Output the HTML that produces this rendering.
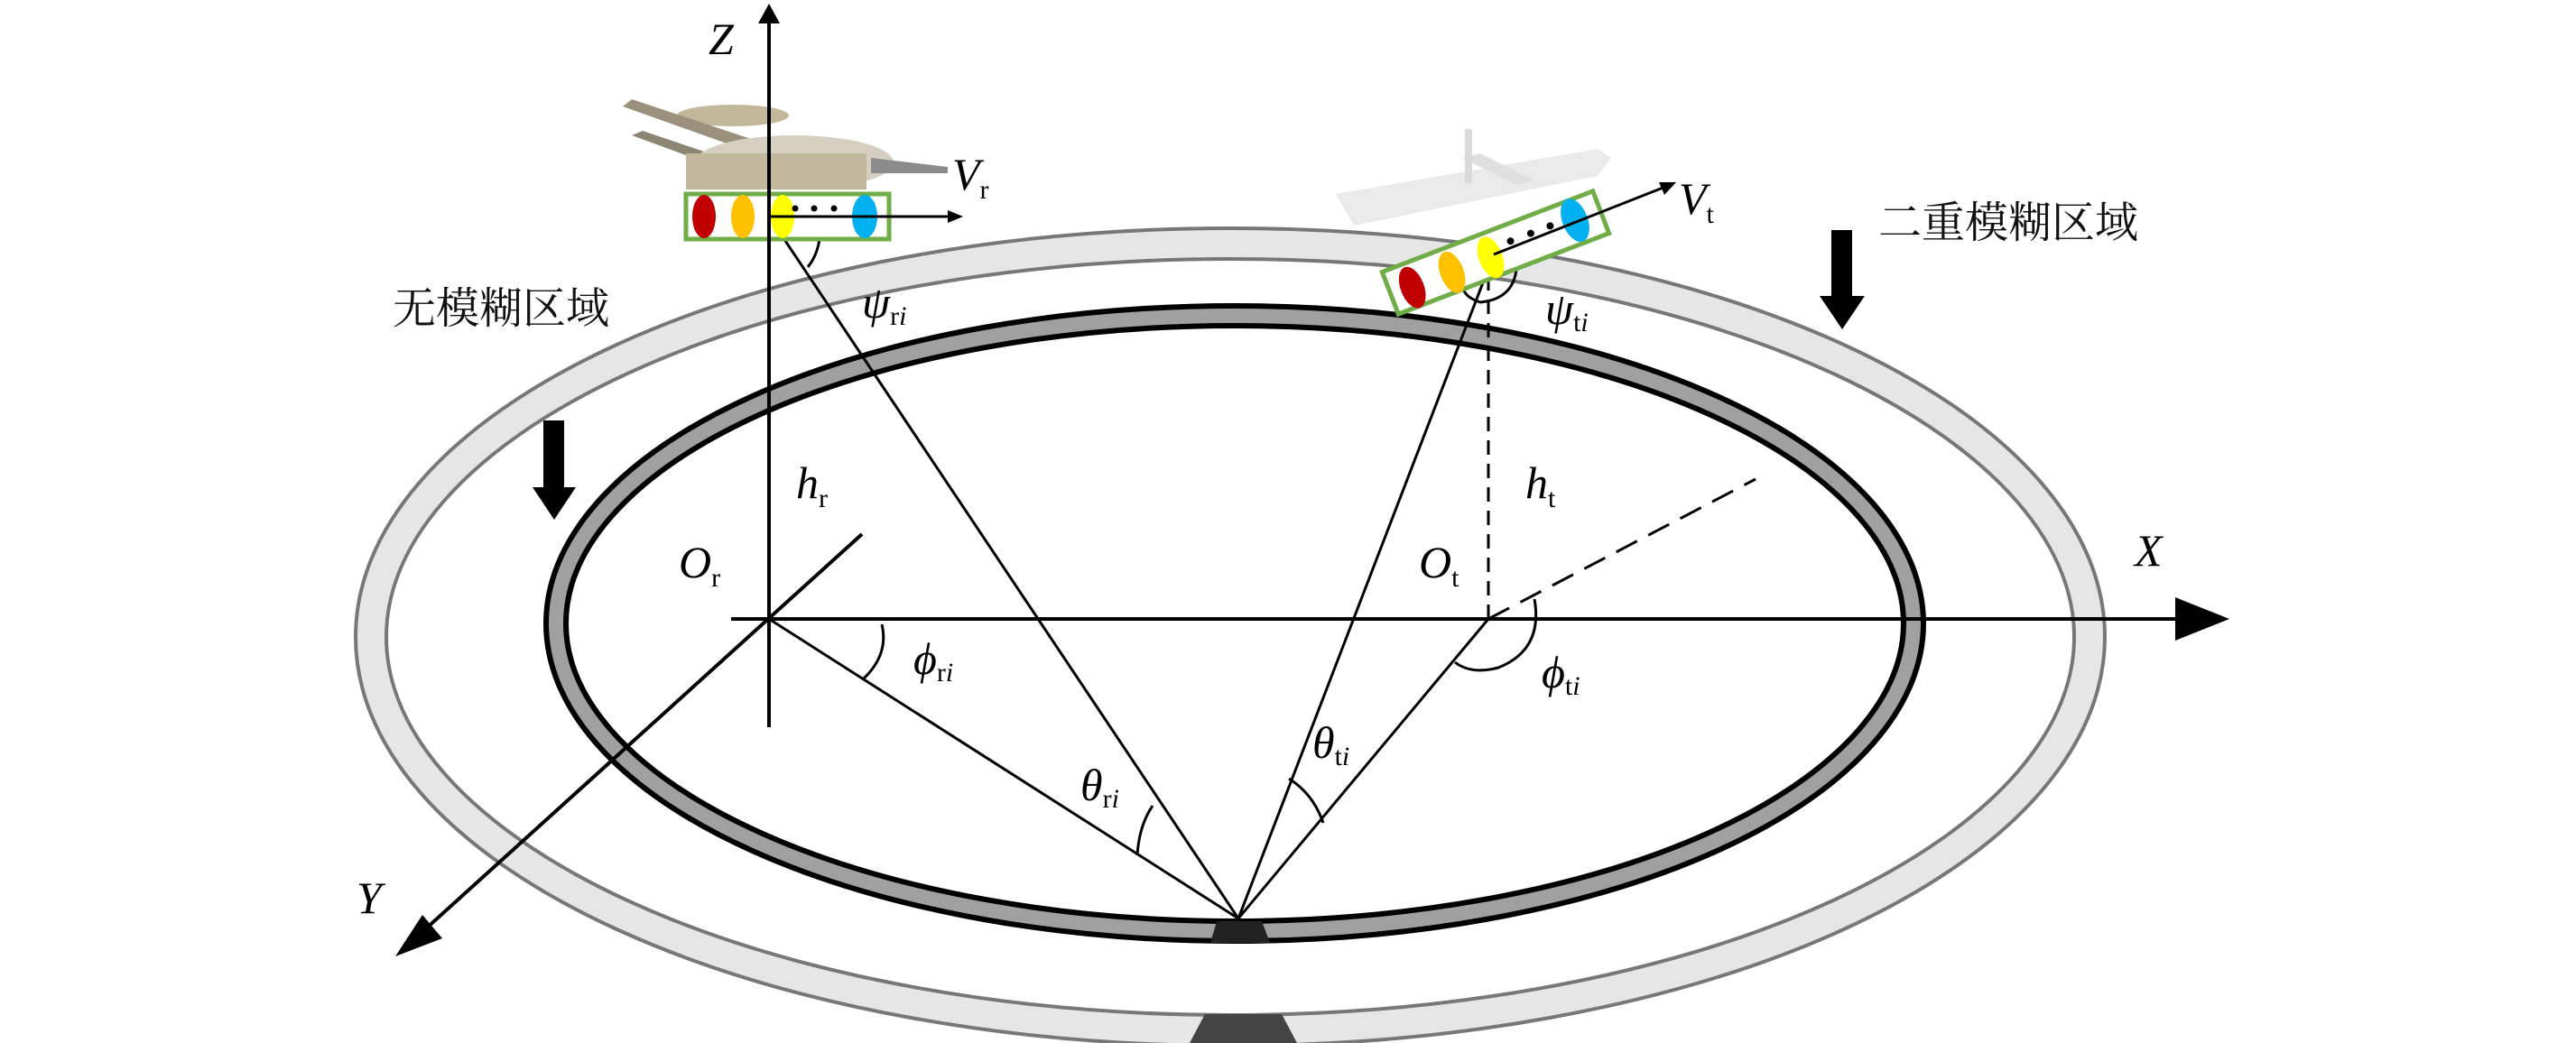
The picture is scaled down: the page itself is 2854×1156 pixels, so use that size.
<!DOCTYPE html>
<html><head><meta charset="utf-8"><style>
html,body{margin:0;padding:0;background:#fff;}
svg{display:block;}
.it{font-family:"Liberation Serif",serif;font-style:italic;font-size:50px;}
.sb{font-family:"Liberation Serif",serif;font-style:normal;font-size:30px;}
.sbi{font-family:"Liberation Serif",serif;font-style:italic;font-size:30px;}
.cn{font-family:"Liberation Serif","Noto Serif CJK SC",serif;font-size:48px;fill:#111;}
</style></head><body>
<svg width="2854" height="1156" viewBox="0 0 2854 1156" xmlns="http://www.w3.org/2000/svg">
<!-- outer light ring -->
<ellipse cx="1363" cy="706" rx="952" ry="436" fill="none" stroke="#777" stroke-width="38"/>
<ellipse cx="1363" cy="706" rx="952" ry="436" fill="none" stroke="#e6e6e6" stroke-width="30"/>
<polygon points="1335,1124 1420,1124 1437,1156 1318,1156" fill="#444"/>
<!-- inner dark ring -->
<ellipse cx="1368" cy="691" rx="752" ry="341" fill="none" stroke="#000" stroke-width="28"/>
<ellipse cx="1368" cy="691" rx="752" ry="341" fill="none" stroke="#a0a0a0" stroke-width="16"/>
<polygon points="1348,1021 1398,1021 1407,1045 1341,1045" fill="#222"/>

<!-- planes (rough) -->
<g opacity="0.85">
<ellipse cx="812" cy="128" rx="62" ry="12" fill="#b8ab8a"/>
<polygon points="690,118 700,110 880,170 870,182" fill="#8a7d66"/>
<polygon points="700,150 712,145 860,195 850,205" fill="#7a705c"/>
<ellipse cx="880" cy="180" rx="110" ry="30" fill="#cfc6b4"/>
<polygon points="965,175 1050,185 1050,192 965,192" fill="#777"/>
<rect x="760" y="170" width="200" height="40" fill="#b9ab8e"/>
</g>
<g opacity="0.3">
<polygon points="1480,215 1770,165 1785,175 1770,195 1500,250" fill="#bbb"/>
<polygon points="1620,175 1640,170 1700,200 1680,205" fill="#999"/>
<rect x="1623" y="143" width="8" height="60" fill="#888"/>
</g>

<!-- axes -->
<line x1="852" y1="20" x2="852" y2="806" stroke="#000" stroke-width="4"/>
<polygon points="852,4 840,26 864,26" fill="#000"/>
<line x1="810" y1="686" x2="2430" y2="686" stroke="#000" stroke-width="4"/>
<polygon points="2470,686 2410,662 2410,710" fill="#000"/>
<line x1="955" y1="592" x2="460" y2="1040" stroke="#000" stroke-width="4"/>
<polygon points="438,1060 490,1040 468,1014" fill="#000"/>

<!-- lines from ground point -->
<g stroke="#000" stroke-width="3" fill="none">
<line x1="1372" y1="1018" x2="852" y2="240"/>
<line x1="1372" y1="1018" x2="852" y2="686"/>
<line x1="1372" y1="1018" x2="1655" y2="282"/>
<line x1="1372" y1="1018" x2="1649" y2="686"/>
<line x1="1649" y1="686" x2="1649" y2="290" stroke-dasharray="16,10"/>
<line x1="1649" y1="686" x2="1945" y2="531" stroke-dasharray="26,14"/>
<path d="M 977,692 Q 985,725 957,752"/>
<path d="M 1260,948 Q 1262,915 1277,893"/>
<path d="M 1428,863 Q 1455,880 1466,912"/>
<path d="M 1700,664 Q 1710,720 1660,740 Q 1630,748 1612,734"/>
<path d="M 908,240 Q 912,275 895,296"/>
<path d="M 1678,270 Q 1690,330 1640,335 Q 1625,330 1622,322"/>
</g>

<!-- receiver antenna -->
<rect x="760" y="215" width="225" height="50" fill="#fff" stroke="#70ad47" stroke-width="5"/>
<ellipse cx="780" cy="240" rx="13" ry="24" fill="#c00000"/>
<ellipse cx="823" cy="240" rx="13" ry="24" fill="#ffc000"/>
<ellipse cx="867" cy="240" rx="13" ry="24" fill="#ffff00"/>
<ellipse cx="958" cy="240" rx="14" ry="24" fill="#00b0f0"/>
<circle cx="881" cy="231" r="3.5"/><circle cx="902" cy="231" r="3.5"/><circle cx="924" cy="231" r="3.5"/>
<line x1="852" y1="20" x2="852" y2="270" stroke="#000" stroke-width="4"/>
<line x1="852" y1="240" x2="1055" y2="240" stroke="#000" stroke-width="3"/>
<polygon points="1067,240 1050,233 1050,247" fill="#000"/>

<!-- transmitter antenna -->
<g transform="translate(1657,280) rotate(-21)">
<rect x="-125" y="-25" width="250" height="50" fill="#fff" stroke="#70ad47" stroke-width="5"/>
<ellipse cx="-100" cy="3" rx="13" ry="24" fill="#c00000"/>
<ellipse cx="-53" cy="3" rx="13" ry="24" fill="#ffc000"/>
<ellipse cx="-7" cy="3" rx="13" ry="24" fill="#ffff00"/>
<ellipse cx="95" cy="-2" rx="14" ry="25" fill="#00b0f0"/>
<circle cx="20" cy="-6" r="4"/><circle cx="44" cy="-6" r="4"/><circle cx="67" cy="-6" r="4"/>
</g>
<line x1="1655" y1="282" x2="1845" y2="207" stroke="#000" stroke-width="3"/>
<polygon points="1857,202 1838,202 1844,216" fill="#000"/>

<!-- big down arrows -->
<rect x="602" y="466" width="23" height="78" fill="#000"/>
<polygon points="590,540 638,540 614,576" fill="#000"/>
<rect x="2029" y="255" width="23" height="78" fill="#000"/>
<polygon points="2016,328 2066,328 2041,365" fill="#000"/>

<!-- labels -->
<text class="it" x="785" y="60">Z</text>
<text class="it" x="1055" y="210">V<tspan class="sb" dy="10">r</tspan></text>
<text class="it" x="1860" y="237">V<tspan class="sb" dy="10">t</tspan></text>
<text class="it" x="955" y="352">ψ<tspan class="sbi" dy="8"><tspan font-style="normal">r</tspan>i</tspan></text>
<text class="it" x="1712" y="359">ψ<tspan class="sbi" dy="8"><tspan font-style="normal">t</tspan>i</tspan></text>
<text class="it" x="882" y="552">h<tspan class="sb" dy="10">r</tspan></text>
<text class="it" x="1690" y="552">h<tspan class="sb" dy="10">t</tspan></text>
<text class="it" x="752" y="640">O<tspan class="sb" dy="10">r</tspan></text>
<text class="it" x="1572" y="640">O<tspan class="sb" dy="10">t</tspan></text>
<text class="it" x="2365" y="627">X</text>
<text class="it" x="395" y="1012">Y</text>
<text class="it" x="1012" y="747">ϕ<tspan class="sbi" dy="8"><tspan font-style="normal">r</tspan>i</tspan></text>
<text class="it" x="1708" y="762">ϕ<tspan class="sbi" dy="8"><tspan font-style="normal">t</tspan>i</tspan></text>
<text class="it" x="1197" y="887">θ<tspan class="sbi" dy="8"><tspan font-style="normal">r</tspan>i</tspan></text>
<text class="it" x="1454" y="840">θ<tspan class="sbi" dy="8"><tspan font-style="normal">t</tspan>i</tspan></text>
<text class="cn" x="435" y="358">无模糊区域</text>
<text class="cn" x="2081" y="263">二重模糊区域</text>
</svg>
</body></html>
